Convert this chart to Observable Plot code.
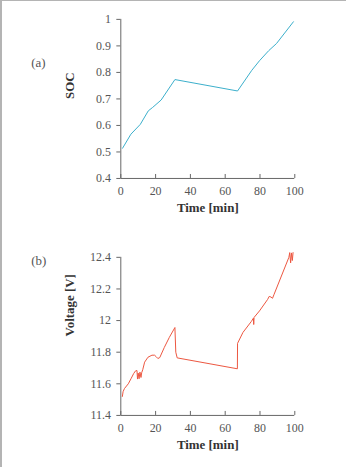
<!DOCTYPE html>
<html>
<head>
<meta charset="utf-8">
<script src="https://cdn.jsdelivr.net/npm/d3@7"></script>
<script src="https://cdn.jsdelivr.net/npm/@observablehq/plot@0.6"></script>
<style>
  html, body { margin: 0; padding: 0; background: #fff; }
  #page { position: relative; width: 346px; height: 467px; overflow: hidden; background: #fff;
          box-sizing: border-box; border-top: 1px solid #b4b4b4; border-left: 2px solid #b4b4b4; }
  #page svg { display: block; }
  #chartA { position: absolute; left: -2px; top: -1px; }
  #chartB { position: absolute; left: -2px; top: 229px; }
</style>
</head>
<body>
<div id="page"><div id="chartA"></div><div id="chartB"></div></div>
<script>
// ---- data ----
const timeTicks = [0, 20, 40, 60, 80, 100];
const socTicks = [0.4, 0.5, 0.6, 0.7, 0.8, 0.9, 1.0];
const voltTicks = [11.4, 11.6, 11.8, 12.0, 12.2, 12.4];

const socTime = [1.0, 5.8, 11.2, 15.8, 18.3, 23.2, 31.1, 67.1, 75.3, 79.7, 85.0, 89.5, 99.2];
const socValue = [0.514, 0.567, 0.604, 0.655, 0.668, 0.696, 0.773, 0.730, 0.808, 0.844, 0.882, 0.909, 0.991];

const voltTime = [0.9, 1.3, 2.1, 4.3, 6.0, 7.4, 8.5, 9.3, 9.6, 10.0, 10.5, 11.0, 11.6, 12.0, 12.6,
  13.7, 15.6, 17.9, 19.4, 20.3, 21.3, 22.4, 25.0, 27.9, 31.1, 31.6, 32.4, 67.0, 67.1, 70.2, 75.0,
  76.2, 76.4, 76.6, 79.7, 84.4, 85.3, 86.3, 87.2, 88.1, 96.6, 97.1, 97.6, 98.1, 98.6, 99.0];
const voltValue = [11.52, 11.55, 11.57, 11.60, 11.635, 11.665, 11.682, 11.684, 11.63, 11.668, 11.632, 11.674, 11.64, 11.67, 11.689,
  11.737, 11.768, 11.781, 11.781, 11.772, 11.76, 11.766, 11.83, 11.894, 11.956, 11.80, 11.764, 11.695, 11.856, 11.925, 11.994,
  12.015, 11.975, 12.02, 12.061, 12.134, 12.153, 12.149, 12.141, 12.166, 12.40, 12.43, 12.365, 12.428, 12.38, 12.43];

const panelLabels = ["(a)", "(b)"];
const xTitle = "Time [min]";
const yTitles = ["SOC", "Voltage [V]"];

// ---- build ----
const socRows = socTime.map((t, i) => ({t, v: socValue[i]}));
const voltRows = voltTime.map((t, i) => ({t, v: voltValue[i]}));
const fmt = d => String(+d.toFixed(2));
const font = "'Liberation Serif', 'Times New Roman', serif";

function panel({rows, yDomain, yTicks, color, marginTop, height, label, yTitle, labelDy}) {
  const marginBottom = 52;
  return Plot.plot({
    width: 348,
    height,
    marginLeft: 121,
    marginRight: 52,
    marginTop,
    marginBottom,
    style: {fontFamily: font, fontSize: "12px", color: "#555", background: "transparent"},
    x: {domain: [0, 100], label: null},
    y: {domain: yDomain, label: null},
    marks: [
      Plot.axisX(timeTicks, {tickFormat: fmt, tickSize: -4, tickPadding: 12, stroke: "#666"}),
      Plot.axisY(yTicks, {tickFormat: fmt, tickSize: 4, tickPadding: 6, stroke: "#666"}),
      Plot.ruleY([yDomain[0]], {stroke: "#666", strokeWidth: 1}),
      Plot.ruleX([0], {stroke: "#666", strokeWidth: 1}),
      Plot.line(rows, {x: "t", y: "v", stroke: color, strokeWidth: 1}),
      Plot.text([yTitle], {frameAnchor: "left", dx: -51, rotate: -90, fontWeight: "bold", fontSize: 13, fill: "#333"}),
      Plot.text([xTitle], {frameAnchor: "bottom", dy: 34, fontWeight: "bold", fontSize: 13, fill: "#333"}),
      Plot.text([label], {frameAnchor: "top-left", dx: -90, dy: labelDy, fontSize: 13, fill: "#555"})
    ]
  });
}

document.getElementById("chartA").appendChild(panel({
  rows: socRows, yDomain: [0.4, 1.0], yTicks: socTicks, color: "#3aaecb",
  marginTop: 19, height: 231, label: panelLabels[0], yTitle: yTitles[0], labelDy: 39
}));
document.getElementById("chartB").appendChild(panel({
  rows: voltRows, yDomain: [11.4, 12.4], yTicks: voltTicks, color: "#ec5640",
  marginTop: 27, height: 238, label: panelLabels[1], yTitle: yTitles[1], labelDy: -2
}));
</script>
</body>
</html>
